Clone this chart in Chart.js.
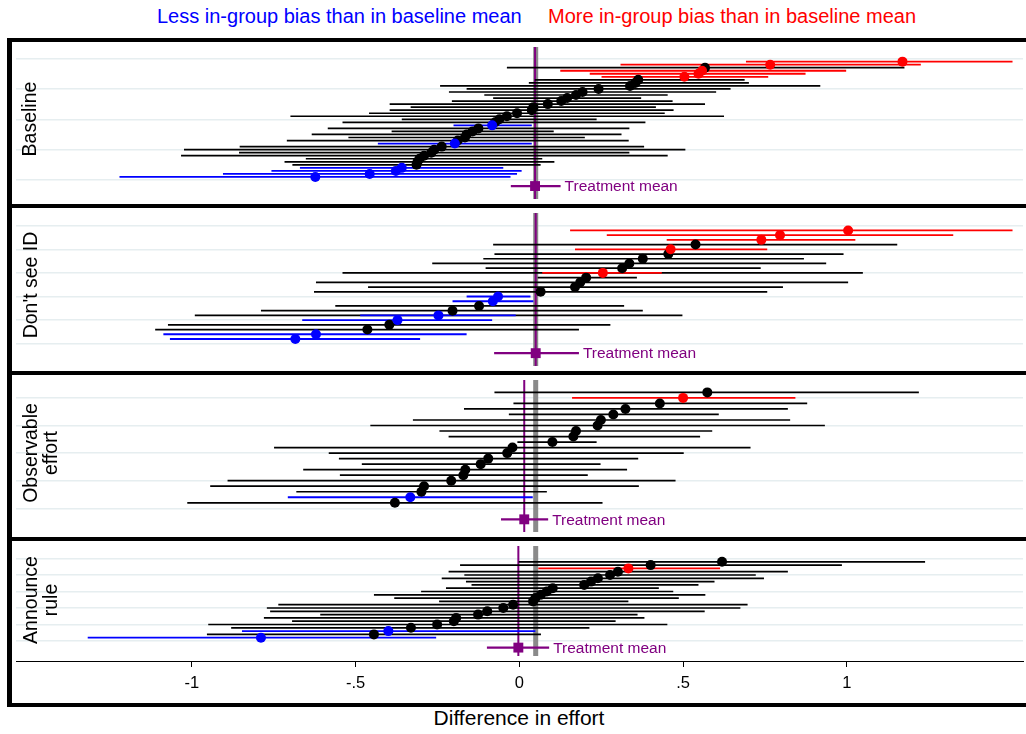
<!DOCTYPE html>
<html><head><meta charset="utf-8">
<script src="https://cdn.jsdelivr.net/npm/chart.js@4.4.1/dist/chart.umd.min.js"></script>
<style>
html,body{margin:0;padding:0;background:#fff;}
body{width:1026px;height:734px;position:relative;overflow:hidden;font-family:'Liberation Sans',Arial,Helvetica,sans-serif;}
.frame{position:absolute;left:7px;width:1040px;border:4px solid #000;border-left-width:5px;box-sizing:border-box;z-index:5;pointer-events:none;}
canvas{position:absolute;left:0;}
.lbl{position:absolute;transform:translate(-50%,-50%) rotate(-90deg);font-size:19.5px;color:#000;white-space:pre;text-align:center;line-height:20px;z-index:6;}
.leg{position:absolute;top:5px;font-size:20px;white-space:nowrap;line-height:22px;}
.xt{position:absolute;left:519px;top:706px;transform:translateX(-50%);font-size:21px;line-height:24px;white-space:nowrap;color:#000;}
</style></head><body>
<div class="leg" style="left:157px;color:#0000ff">Less in-group bias than in baseline mean</div>
<div class="leg" style="left:548px;color:#ff0000">More in-group bias than in baseline mean</div>

<canvas id="c1" width="1026" height="162" style="top:42px"></canvas>
<canvas id="c2" width="1026" height="163" style="top:208px"></canvas>
<canvas id="c3" width="1026" height="162" style="top:375px"></canvas>
<canvas id="c4" width="1026" height="162" style="top:541px"></canvas>

<div class="frame" style="top:38px;height:170px"></div>
<div class="frame" style="top:204px;height:171px"></div>
<div class="frame" style="top:371px;height:170px"></div>
<div class="frame" style="top:537px;height:170px"></div>

<div class="lbl" style="left:29px;top:119px">Baseline</div>
<div class="lbl" style="left:29.5px;top:285px">Don't see ID</div>
<div class="lbl" style="left:40px;top:453px">Observable
effort</div>
<div class="lbl" style="left:40px;top:600px">Announce
rule</div>
<div class="xt">Difference in effort</div>

<script>
// ---------------- DATA ----------------
const TICK_VALUES = [-1, -0.5, 0, 0.5, 1];
const TICK_LABELS = ['-1', '-.5', '0', '.5', '1'];
const BASE_MEAN = 0.05;
const TREAT_LABEL = 'Treatment mean';
const TREAT_ROW = -2;
const TREAT_EST = [0.048, 0.050, 0.015, -0.003];
const TREAT_LO  = [-0.026, -0.077, -0.056, -0.099];
const TREAT_HI  = [0.126, 0.182, 0.088, 0.091];

// Panel 1: Baseline (rows ranked 1..39)
const P1_EST = [-0.623,-0.457,-0.377,-0.359,-0.314,-0.311,-0.305,-0.291,-0.269,-0.260,-0.237,-0.197,-0.188,-0.166,-0.161,-0.143,-0.125,-0.083,-0.074,-0.061,-0.038,-0.007,0.038,0.043,0.087,0.128,0.146,0.173,0.193,0.242,0.338,0.354,0.363,0.504,0.547,0.558,0.567,0.766,1.170];
const P1_LO  = [-1.221,-0.905,-0.757,-0.670,-0.693,-0.717,-0.652,-1.033,-0.856,-1.024,-0.854,-0.432,-0.710,-0.522,-0.634,-0.390,-0.585,-0.201,-0.540,-0.359,-0.699,-0.459,-0.396,-0.332,-0.396,-0.206,-0.080,-0.107,-0.215,-0.161,-0.242,0.029,0.047,0.251,0.215,0.125,-0.038,0.309,0.692];
const P1_HI  = [-0.027,-0.007,0.007,-0.049,0.065,0.107,0.070,0.453,0.336,0.507,0.381,0.038,0.334,0.200,0.312,0.105,0.336,0.038,0.385,0.236,0.625,0.444,0.471,0.417,0.567,0.468,0.372,0.453,0.601,0.645,0.919,0.701,0.688,0.760,0.874,0.998,1.176,1.226,1.506];
const P1_GRP = ['b','b','b','b','k','k','k','k','k','k','k','b','k','k','k','k','k','b','k','k','k','k','k','k','k','k','k','k','k','k','k','k','k','r','r','r','k','r','r'];
const P1_GRID = [0, 10, 20, 30, 40];

// Panel 2: Don't see ID (rows ranked 1..24)
const P2_EST = [-0.684,-0.621,-0.464,-0.397,-0.372,-0.247,-0.204,-0.123,-0.081,-0.065,0.065,0.170,0.186,0.204,0.255,0.314,0.336,0.377,0.455,0.462,0.538,0.739,0.796,1.004];
const P2_LO  = [-1.067,-1.087,-1.112,-1.073,-0.663,-0.486,-0.789,-0.562,-0.204,-0.161,-0.627,-0.462,-0.621,0.056,0.070,-0.103,-0.266,-0.110,-0.076,0.170,-0.080,0.450,0.267,0.155];
const P2_HI  = [-0.303,-0.161,0.182,0.278,-0.083,-0.011,0.377,0.320,0.043,0.034,0.757,0.805,1.004,0.359,0.435,0.737,0.937,0.869,0.990,0.757,1.154,1.026,1.325,1.506];
const P2_GRP = ['b','b','k','k','b','b','k','k','b','b','k','k','k','k','r','k','k','k','k','r','k','r','r','r'];
const P2_DUP_ROW = [6, 15];
const P2_DUP_LO  = [-0.991, -0.540];
const P2_DUP_HI  = [0.498, 1.049];
const P2_GRID = [0, 5, 10, 15, 20, 25];

// Panel 3: Observable effort (rows ranked 1..21)
const P3_EST = [-0.380,-0.333,-0.299,-0.291,-0.208,-0.171,-0.165,-0.118,-0.095,-0.037,-0.021,0.101,0.165,0.173,0.239,0.249,0.287,0.324,0.429,0.500,0.574];
const P3_LO  = [-1.014,-0.707,-0.681,-0.944,-0.891,-0.548,-0.660,-0.481,-0.551,-0.582,-0.749,-0.006,-0.216,-0.244,-0.455,-0.325,-0.032,-0.169,-0.018,0.161,-0.076];
const P3_HI  = [0.254,0.041,0.084,0.365,0.477,0.209,0.329,0.248,0.363,0.502,0.706,0.236,0.552,0.589,0.933,0.827,0.609,0.820,0.879,0.843,1.220];
const P3_GRP = ['k','b','k','k','k','k','k','k','k','k','k','k','k','k','k','k','k','k','k','r','k'];
const P3_GRID = [0, 5, 10, 15, 20];

// Panel 4: Announce rule (rows ranked 1..24)
const P4_EST = [-0.789,-0.444,-0.400,-0.331,-0.251,-0.200,-0.193,-0.126,-0.098,-0.049,-0.019,0.042,0.049,0.066,0.084,0.102,0.198,0.219,0.240,0.277,0.301,0.333,0.401,0.619];
const P4_LO  = [-1.318,-0.954,-0.847,-0.880,-0.950,-0.694,-0.780,-0.608,-0.761,-0.771,-0.736,-0.245,-0.382,-0.444,-0.300,-0.224,-0.146,-0.163,-0.237,-0.168,-0.216,0.058,-0.181,-0.002];
const P4_HI  = [-0.254,0.066,0.049,0.214,0.452,0.294,0.382,0.361,0.566,0.675,0.697,0.333,0.487,0.568,0.470,0.426,0.547,0.596,0.747,0.722,0.820,0.613,0.985,1.239];
const P4_GRP = ['b','k','b','k','k','k','k','k','k','k','k','k','k','k','k','k','k','k','k','k','k','r','k','k'];
const P4_GRID = [0, 5, 10, 15, 20, 25];

// ---------------- STYLE / LAYOUT ----------------
const COLORS = {k:'#000000', r:'#ff0000', b:'#0000ff'};
const PURPLE = '#800080';
const GREY = '#8a8a8a';
const GRIDC = '#e6eef0';
const X_MIN = -1.537, X_MAX = 1.538;
const FONT = "'Liberation Sans', Arial, Helvetica, sans-serif";
Chart.defaults.font.family = FONT;

const PANELS = [
  {id:'c1', est:P1_EST, lo:P1_LO, hi:P1_HI, grp:P1_GRP, grid:P1_GRID, ymin:-7.91, ymax:45.47, plotH:162, showX:false},
  {id:'c2', est:P2_EST, lo:P2_LO, hi:P2_HI, grp:P2_GRP, grid:P2_GRID, ymin:-5.78, ymax:28.75, plotH:163, showX:false,
   dupRow:P2_DUP_ROW, dupLo:P2_DUP_LO, dupHi:P2_DUP_HI},
  {id:'c3', est:P3_EST, lo:P3_LO, hi:P3_HI, grp:P3_GRP, grid:P3_GRID, ymin:-5.20, ymax:24.15, plotH:162, showX:false},
  {id:'c4', est:P4_EST, lo:P4_LO, hi:P4_HI, grp:P4_GRP, grid:P4_GRID, ymin:-6.06, ymax:30.30, plotH:120, showX:true}
];

function segments(p, code) {
  const d = [];
  p.est.forEach((e, i) => {
    if (p.grp[i] !== code) return;
    const r = i + 1;
    d.push({x:p.lo[i], y:r}, {x:p.hi[i], y:r}, {x:p.hi[i], y:null});
  });
  if (code === 'k' && p.dupRow) {
    p.dupRow.forEach((r, j) => d.push({x:p.dupLo[j], y:r}, {x:p.dupHi[j], y:r}, {x:p.dupHi[j], y:null}));
  }
  return d;
}
function points(p, code) {
  const d = [];
  p.est.forEach((e, i) => { if (p.grp[i] === code) d.push({x:e, y:i + 1}); });
  return d;
}

const treatLabel = {
  id: 'treatLabel',
  afterDatasetsDraw(chart) {
    const o = chart.options.plugins.treatLabel;
    const {ctx} = chart; const x = chart.scales.x, y = chart.scales.y;
    ctx.save();
    ctx.font = '15.5px ' + FONT;
    ctx.fillStyle = PURPLE;
    ctx.textBaseline = 'middle';
    ctx.textAlign = 'left';
    ctx.fillText(TREAT_LABEL, x.getPixelForValue(o.hi) + 4, y.getPixelForValue(TREAT_ROW) + 1);
    ctx.restore();
  }
};

PANELS.forEach((p, k) => {
  const inset = 5 * (p.ymax - p.ymin) / p.plotH;
  const vTop = p.ymax - inset, vBot = p.ymin + inset;
  const lineDs = (data, color, w, order) => ({data, showLine:true, borderColor:color, borderWidth:w, pointRadius:0, fill:false, spanGaps:false, order, borderCapStyle:'butt'});
  const ptDs = (data, color, r, style, order) => ({data, showLine:false, backgroundColor:color, borderColor:color, borderWidth:0, pointRadius:r, pointStyle:style, order});
  const datasets = [
    lineDs([{x:BASE_MEAN, y:vTop}, {x:BASE_MEAN, y:vBot}], GREY, 5, 30),
    lineDs([{x:TREAT_EST[k], y:vTop}, {x:TREAT_EST[k], y:vBot}], PURPLE, 2, 29),
    lineDs(segments(p, 'k'), COLORS.k, 1.7, 20),
    lineDs(segments(p, 'b'), COLORS.b, 1.8, 19),
    lineDs(segments(p, 'r'), COLORS.r, 1.8, 18),
    lineDs([{x:TREAT_LO[k], y:TREAT_ROW}, {x:TREAT_HI[k], y:TREAT_ROW}], PURPLE, 2.2, 17),
    ptDs(points(p, 'k'), COLORS.k, 5, 'circle', 10),
    ptDs(points(p, 'b'), COLORS.b, 5, 'circle', 9),
    ptDs(points(p, 'r'), COLORS.r, 5, 'circle', 8),
    ptDs([{x:TREAT_EST[k], y:TREAT_ROW}], PURPLE, 7, 'rect', 7)
  ];
  new Chart(document.getElementById(p.id), {
    type: 'scatter',
    data: {datasets},
    plugins: [treatLabel],
    options: {
      responsive: false, animation: false, devicePixelRatio: 1, events: [],
      layout: {autoPadding: false, padding: {left:16, right:3, top:0, bottom:0}},
      plugins: {legend:{display:false}, tooltip:{enabled:false}, treatLabel:{hi:TREAT_HI[k]}},
      scales: {
        x: {
          type:'linear', min:X_MIN, max:X_MAX, display:p.showX, position:'bottom',
          afterBuildTicks: s => { s.ticks = TICK_VALUES.map(v => ({value:v})); },
          afterFit: s => { s.height = p.showX ? 42 : 0; },
          grid: {drawOnChartArea:false, drawTicks:true, tickLength:6, color:'#000', lineWidth:1},
          border: {display:true, color:'#000', width:1},
          ticks: {color:'#000', font:{size:16.5}, padding:7, maxRotation:0, autoSkip:false,
                  callback: v => TICK_LABELS[TICK_VALUES.indexOf(v)]}
        },
        y: {
          type:'linear', min:p.ymin, max:p.ymax,
          afterBuildTicks: s => { s.ticks = p.grid.map(v => ({value:v})); },
          afterFit: s => { s.width = 0; },
          ticks: {display:false},
          grid: {color:GRIDC, lineWidth:1.5, drawTicks:false},
          border: {display:false}
        }
      }
    }
  });
});
</script>
</body></html>
